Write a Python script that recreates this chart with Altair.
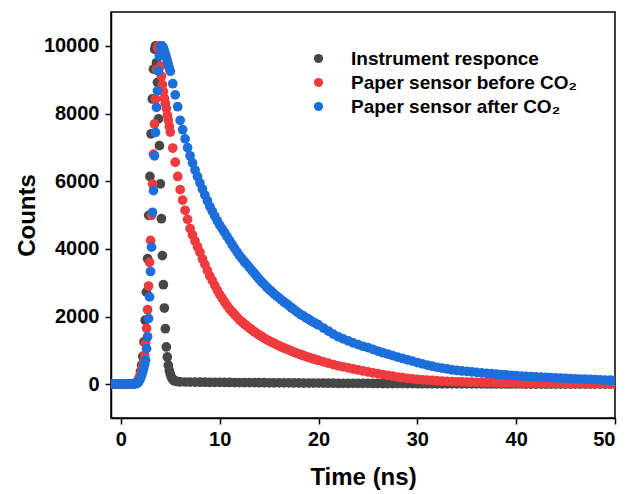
import altair as alt
import pandas as pd

# ---------------- data ----------------
series_names = ["Instrument responce", "Paper sensor before CO\u2082", "Paper sensor after CO\u2082"]
series_colors = ["#474747", "#EE3B3E", "#1C6FDB"]

t_base = [-1.0, -0.75, -0.5, -0.25, 0.0, 0.25, 0.5, 0.75, 1.0, 1.25]

# Instrument response
t_irf_rise = [1.5, 1.62, 1.74, 1.86, 1.98, 2.10, 2.22, 2.34, 2.46, 2.58, 2.70, 2.82, 2.94, 3.06, 3.18, 3.30, 3.42]
c_irf_base = [2, 4, 3, 5, 2, 6, 4, 8, 10, 15]
c_irf_rise = [25, 40, 100, 200, 370, 560, 820, 1250, 1890, 2720, 3710, 4990, 6140, 7400, 8430, 9310, 9900]
t_irf_fall = [3.5, 3.6, 3.7, 3.8, 3.9, 4.0, 4.1, 4.2, 4.3, 4.4, 4.5, 4.6, 4.7, 4.8, 4.9, 5.0, 5.1, 5.2, 5.3, 5.4, 5.6, 5.8, 6.0]
c_irf_fall = [10000, 9500, 8920, 7840, 7050, 5920, 4890, 3800, 2940, 2250, 1640, 1100, 805, 560, 400, 300, 215, 160, 125, 100, 85, 75, 68]
t_half = [6.5, 7.0, 7.5, 8.0, 8.5, 9.0, 9.5, 10.0, 10.5, 11.0, 11.5, 12.0, 12.5, 13.0, 13.5, 14.0,
          14.5, 15.0, 15.5, 16.0, 16.5, 17.0, 17.5, 18.0, 18.5, 19.0, 19.5, 20.0, 20.5, 21.0, 21.5,
          22.0, 22.5, 23.0, 23.5, 24.0, 24.5, 25.0, 25.5, 26.0, 26.5, 27.0, 27.5, 28.0, 28.5, 29.0,
          29.5, 30.0, 30.5, 31.0, 31.5, 32.0, 32.5, 33.0, 33.5, 34.0, 34.5, 35.0, 35.5, 36.0, 36.5,
          37.0, 37.5, 38.0, 38.5, 39.0, 39.5, 40.0, 40.5, 41.0, 41.5, 42.0, 42.5, 43.0, 43.5, 44.0,
          44.5, 45.0, 45.5, 46.0, 46.5, 47.0, 47.5, 48.0, 48.5, 49.0, 49.5, 50.0]
c_irf_tail = [64, 62, 60, 58, 57, 55, 54, 52, 51, 50, 48, 47, 46, 45, 44, 43,
              42, 41, 40, 39, 38, 37, 36, 35, 34, 33, 32, 31, 30, 29, 28,
              27, 26, 25, 24, 24, 23, 22, 21, 20, 19, 19, 18, 17, 16, 16,
              15, 14, 14, 13, 12, 12, 11, 11, 10, 10, 9, 9, 8, 8, 8,
              7, 7, 6, 6, 6, 5, 5, 5, 4, 4, 4, 4, 3, 3, 3,
              3, 3, 2, 2, 2, 2, 2, 2, 1, 1, 1, 1]

# Paper sensor before CO2
t_red_rise = [1.4, 1.5, 1.6, 1.7, 1.8, 1.9, 2.0, 2.1, 2.2, 2.3, 2.4, 2.5, 2.6, 2.7, 2.8, 2.9, 3.0,
              3.1, 3.2, 3.3, 3.4, 3.5, 3.6, 3.7, 3.8, 3.9, 4.0, 4.1, 4.2, 4.3, 4.4, 4.5, 4.6, 4.7,
              4.8, 4.9, 5.0]
c_red_base = [3, 2, 5, 4, 6, 3, 5, 7, 9, 12]
c_red_rise = [15, 22, 40, 80, 140, 210, 300, 400, 520, 650, 850, 1210, 1650, 2200, 2900, 3600, 4250,
              4990, 5920, 6800, 7690, 8430, 9300, 9950, 10000, 9750, 9400, 9100, 8850, 8650, 8450, 8300,
              8150, 7950, 7800, 7620, 7450]
t_quarter = [5.25, 5.5, 5.75, 6.0, 6.25, 6.5, 6.75, 7.0, 7.25, 7.5, 7.75, 8.0, 8.25, 8.5, 8.75, 9.0,
             9.25, 9.5, 9.75, 10.0, 10.25, 10.5, 10.75, 11.0, 11.25, 11.5, 11.75, 12.0, 12.25, 12.5,
             12.75, 13.0, 13.25, 13.5, 13.75, 14.0, 14.25, 14.5, 14.75, 15.0, 15.25, 15.5, 15.75,
             16.0, 16.25, 16.5, 16.75, 17.0, 17.25, 17.5, 17.75, 18.0, 18.25, 18.5, 18.75, 19.0,
             19.25, 19.5, 19.75, 20.0]
c_red_mid = [6980, 6560, 6140, 5750, 5440, 5140, 4870, 4600, 4410, 4230, 4060, 3900, 3700, 3540,
             3360, 3200, 3060, 2920, 2780, 2650, 2540, 2430, 2320, 2220, 2140, 2060, 1980, 1900,
             1840, 1780, 1720, 1660, 1610, 1550, 1500, 1450, 1410, 1360, 1320, 1280, 1240, 1210,
             1170, 1140, 1100, 1070, 1040, 1010, 980, 950, 920, 890, 870, 840, 815, 790, 770, 745,
             725, 700]
t_tail = t_half[28:]
c_red_tail = [660, 620, 580, 540, 510, 480, 450, 420, 390, 360, 335, 310, 285, 260, 235, 210, 190,
              172, 155, 140, 130, 120, 110, 100, 92, 84, 77, 70, 66, 62, 58, 55, 52, 49, 46, 43,
              41, 39, 37, 35, 33, 32, 30, 29, 27, 26, 24, 23, 22, 20, 19, 18, 17, 16, 15, 14, 13,
              12, 11, 10]

# Paper sensor after CO2
t_blue_rise = [1.5, 1.6, 1.7, 1.8, 1.9, 2.0, 2.1, 2.2, 2.3, 2.4, 2.5, 2.6, 2.7, 2.8, 2.9, 3.0, 3.1,
               3.2, 3.3, 3.4, 3.5, 3.6, 3.7, 3.8, 3.9, 4.0, 4.1, 4.2, 4.3, 4.4, 4.5, 4.6, 4.7, 4.8,
               4.9, 5.0]
c_blue_base = [4, 6, 3, 5, 7, 4, 6, 5, 8, 9]
c_blue_rise = [10, 20, 40, 70, 120, 180, 265, 360, 460, 580, 710, 1050, 1400, 1940, 2580, 3330, 4050,
               5080, 5720, 6750, 7440, 8180, 8670, 9260, 9700, 9950, 10000, 9990, 9940, 9850, 9750,
               9650, 9550, 9450, 9350, 9250]
c_blue_mid = [8880, 8550, 8200, 7800, 7520, 7250, 6990, 6750, 6540, 6330, 6140, 5950, 5770, 5590,
              5420, 5250, 5110, 4970, 4830, 4700, 4590, 4480, 4360, 4250, 4130, 4020, 3910, 3800,
              3710, 3620, 3540, 3450, 3360, 3280, 3190, 3100, 3020, 2950, 2870, 2800, 2740, 2670,
              2610, 2550, 2490, 2430, 2380, 2320, 2260, 2210, 2150, 2100, 2050, 2010, 1960, 1920,
              1870, 1830, 1790, 1750]
c_blue_tail = [1660, 1570, 1480, 1400, 1340, 1280, 1220, 1170, 1120, 1080, 1030, 980, 930, 890, 845,
               800, 760, 720, 680, 640, 600, 565, 530, 500, 475, 450, 425, 405, 390, 380, 365, 350,
               335, 320, 308, 295, 283, 272, 260, 250, 240, 232, 224, 216, 208, 200, 193, 186, 178,
               170, 164, 158, 152, 146, 140, 134, 128, 122, 116, 110]

# ---------------- build table ----------------
rows = []
def add(name, ts, cs):
    for t, c in zip(ts, cs, strict=True):
        rows.append({"t": t, "c": c, "series": name})

add(series_names[0], t_base + t_irf_rise + t_irf_fall + t_half,
    c_irf_base + c_irf_rise + c_irf_fall + c_irf_tail)
add(series_names[1], t_base + t_red_rise + t_quarter + t_tail,
    c_red_base + c_red_rise + c_red_mid + c_red_tail)
add(series_names[2], t_base + t_blue_rise + t_quarter + t_tail,
    c_blue_base + c_blue_rise + c_blue_mid + c_blue_tail)
df = pd.DataFrame(rows)

FONT = "Liberation Sans"

chart = alt.Chart(df).mark_circle(size=95, opacity=1, clip=True).encode(
    x=alt.X("t:Q",
            scale=alt.Scale(domain=[-1, 50], nice=False, zero=False),
            axis=alt.Axis(values=[0, 10, 20, 30, 40, 50], title="Time (ns)", format="d",
                          titlePadding=16, labelPadding=5)),
    y=alt.Y("c:Q",
            scale=alt.Scale(domain=[-1000, 11000], nice=False, zero=False),
            axis=alt.Axis(values=[0, 2000, 4000, 6000, 8000, 10000], title="Counts", format="d",
                          titlePadding=4, labelPadding=6)),
    color=alt.Color("series:N",
                    sort=series_names,
                    scale=alt.Scale(domain=series_names, range=series_colors),
                    legend=alt.Legend(title=None, orient="none", legendX=198, legendY=37,
                                      labelFont=FONT, labelFontSize=19, labelFontWeight="bold",
                                      labelColor="black", labelLimit=0, symbolType="circle",
                                      symbolSize=85, symbolStrokeWidth=0, labelOffset=23,
                                      rowPadding=4)),
).properties(
    width=504, height=406,
    autosize=alt.AutoSizeParams(type="none"),
    padding={"left": 111, "top": 12, "right": 15, "bottom": 76},
).configure_view(
    stroke="black", strokeWidth=1.5
).configure_axis(
    grid=False,
    labelFont=FONT, labelFontSize=20, labelFontWeight="bold", labelColor="black",
    titleFont=FONT, titleFontSize=24, titleFontWeight="bold", titleColor="black",
    domainColor="black", domainWidth=1.5, tickColor="black", tickWidth=1.5, tickSize=6,
)

chart.save("out.html", embed_options={"renderer": "svg", "actions": False})
